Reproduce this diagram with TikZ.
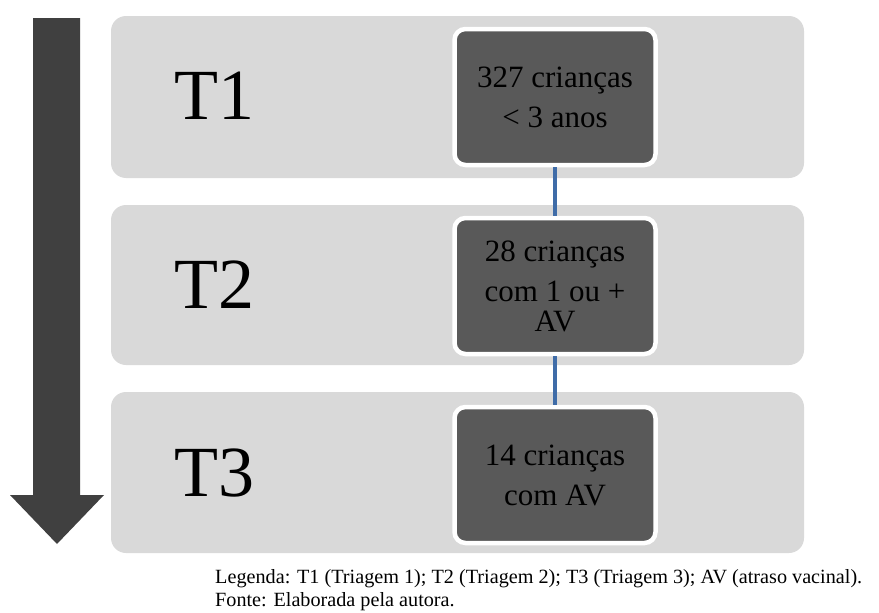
\documentclass[tikz,border=0pt]{standalone}
\usepackage{fontspec}
\setmainfont{Liberation Serif}
\definecolor{bandgrey}{HTML}{D9D9D9}
\definecolor{boxdark}{HTML}{595959}
\definecolor{arrowdark}{HTML}{404040}
\definecolor{linkblue}{HTML}{3F6CA8}
\begin{document}
\begin{tikzpicture}[x=1pt,y=-1pt,
  band/.style={fill=bandgrey, draw=none, rounded corners=15pt},
  stagebox/.style={fill=boxdark, draw=white, line width=4.5pt, rounded corners=11pt,
    minimum width=201pt, minimum height=136pt, inner sep=0pt, align=center,
    font=\fontsize{31}{40}\selectfont, text=black},
  tlabel/.style={font=\fontsize{72}{80}\selectfont, text=black, inner sep=0pt},
  link/.style={draw=linkblue, line width=4pt},
  caption/.style={font=\fontsize{20.2}{24}\selectfont, anchor=base west, inner sep=0pt}
]
\useasboundingbox (0,0) rectangle (879,613);
% big arrow
\fill[arrowdark] (33,18) -- (80,18) -- (80,495) -- (104,495) -- (57,544) -- (10,495) -- (33,495) -- cycle;
% bands
\path[band] (111,16) rectangle (804,178);
\path[band] (111,205) rectangle (804,365);
\path[band] (111,392) rectangle (804,553);
% labels
\node[tlabel] (t1) at (214,96) {T1};
\node[tlabel] (t2) at (214,285) {T2};
\node[tlabel] (t3) at (214,473) {T3};
% stage boxes
\node[stagebox] (b1) at (555,97) {327 crianças\\< 3 anos};
\node[stagebox] (b2) at (555,286) {28 crianças\\com 1 ou +\\[-10pt]AV};
\node[stagebox] (b3) at (555,475) {14 crianças\\com AV};
% links
\draw[link] (b1.south) -- (b2.north);
\draw[link] (b2.south) -- (b3.north);
% caption
\node[caption] (leg) at (215,583) {Legenda: T1 (Triagem 1); T2 (Triagem 2); T3 (Triagem 3); AV (atraso vacinal).};
\node[caption] (src) at (215,606) {Fonte: Elaborada pela autora.};
\end{tikzpicture}
\end{document}
